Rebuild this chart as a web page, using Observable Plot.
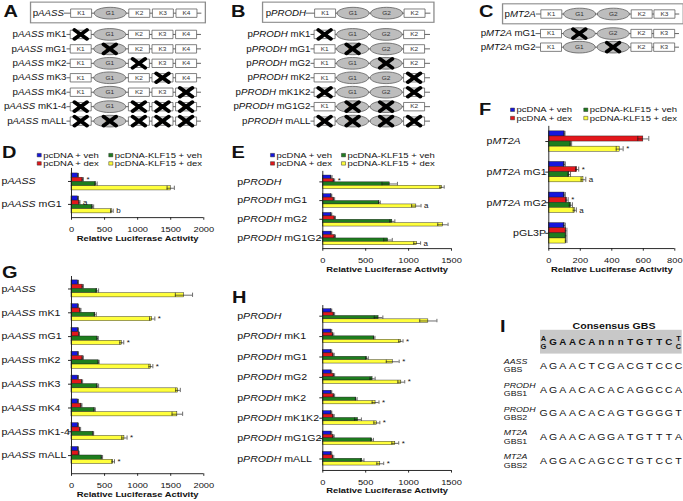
<!DOCTYPE html>
<html>
<head>
<meta charset="utf-8">
<script src="https://cdn.jsdelivr.net/npm/d3@7"></script>
<script src="https://cdn.jsdelivr.net/npm/@observablehq/plot@0.6"></script>
<style>
html, body { margin: 0; padding: 0; background: #fff; overflow: hidden; width: 683px; height: 501px; }
#page { position: absolute; left: 0; top: 0; width: 683px; height: 590px; transform-origin: 0 0; font-family: "Liberation Sans", Arial, Helvetica, sans-serif; color: #111; }
.pl { position: absolute; }
.pl svg { position: absolute; left: 0; top: 0; max-width: none; overflow: visible; }
.letter { position: absolute; font-weight: bold; font-size: 20px; line-height: 20px; }
</style>
</head>
<body>
<div id="page"></div>
<script>
// ================= DATA =================
const SERIES = ["pcDNA + veh", "pcDNA + dex", "pcDNA-KLF15 + veh", "pcDNA-KLF15 + dex"];
const COLORS = ["#1616dc", "#e3171b", "#1e7d1e", "#ffff3c"];
const AXIS_TITLE = "Relative Luciferase Activity";

// Panel A constructs
const aConstruct = "pAASS";
const aElements = ["K1", "G1", "K2", "K3", "K4"];
const aMutants = ["pAASS mK1", "pAASS mG1", "pAASS mK2", "pAASS mK3", "pAASS mK4", "pAASS mK1-4", "pAASS mALL"];
const aMutated = [["K1"], ["G1"], ["K2"], ["K3"], ["K4"], ["K1", "K2", "K3", "K4"], ["K1", "G1", "K2", "K3", "K4"]];
// Panel B constructs
const bConstruct = "pPRODH";
const bElements = ["K1", "G1", "G2", "K2"];
const bMutants = ["pPRODH mK1", "pPRODH mG1", "pPRODH mG2", "pPRODH mK2", "pPRODH mK1K2", "pPRODH mG1G2", "pPRODH mALL"];
const bMutated = [["K1"], ["G1"], ["G2"], ["K2"], ["K1", "K2"], ["G1", "G2"], ["K1", "G1", "G2", "K2"]];
// Panel C constructs
const cConstruct = "pMT2A";
const cElements = ["K1", "G1", "G2", "K2", "K3"];
const cMutants = ["pMT2A mG1", "pMT2A mG2"];
const cMutated = [["G1"], ["G2"]];

// Panel D
const dGroups = ["pAASS", "pAASS mG1"];
const dTicks = [0, 500, 1000, 1500, 2000];
const dVeh = [100, 100], dVehErr = [5, 5];
const dDex = [170, 120], dDexErr = [10, 8];
const dKlfVeh = [370, 320], dKlfVehErr = [18, 15];
const dKlfDex = [1500, 610], dKlfDexErr = [55, 20];
const dDexNote = ["*", "a"], dKlfDexNote = ["", "b"];

// Panel E
const eGroups = ["pPRODH", "pPRODH mG1", "pPRODH mG2", "pPRODH mG1G2"];
const eTicks = [0, 500, 1000, 1500];
const eVeh = [100, 100, 100, 100], eVehErr = [8, 5, 5, 5];
const eDex = [130, 130, 140, 140], eDexErr = [8, 8, 8, 8];
const eKlfVeh = [780, 660, 810, 760], eKlfVehErr = [90, 10, 30, 50];
const eKlfDex = [1390, 1090, 1400, 1100], eKlfDexErr = [25, 55, 60, 40];
const eDexNote = ["*", "", "", ""], eKlfDexNote = ["", "a", "", "a"];

// Panel F
const fGroups = ["pMT2A", "pMT2A mG1", "pMT2A mG2", "pGL3P"];
const fTicks = [0, 200, 400, 600, 800];
const fVeh = [100, 100, 100, 100], fVehErr = [3, 5, 5, 5];
const fDex = [600, 180, 115, 110], fDexErr = [35, 10, 8, 5];
const fKlfVeh = [140, 130, 140, 110], fKlfVehErr = [5, 8, 10, 5];
const fKlfDex = [450, 220, 165, 110], fKlfDexErr = [22, 15, 10, 5];
const fDexNote = ["", "*", "*", ""], fKlfDexNote = ["*", "a", "a", ""];

// Panel G
const gGroups = ["pAASS", "pAASS mK1", "pAASS mG1", "pAASS mK2", "pAASS mK3", "pAASS mK4", "pAASS mK1-4", "pAASS mALL"];
const gTicks = [0, 500, 1000, 1500, 2000];
const gVeh = [100, 100, 100, 100, 100, 100, 100, 100], gVehErr = [5, 5, 5, 5, 5, 5, 5, 5];
const gDex = [170, 135, 115, 170, 160, 150, 130, 110], gDexErr = [10, 8, 6, 10, 8, 8, 8, 6];
const gKlfVeh = [390, 360, 395, 410, 395, 350, 330, 460], gKlfVehErr = [20, 15, 10, 8, 15, 10, 5, 10];
const gKlfDex = [1700, 1220, 760, 1200, 1610, 1600, 800, 630], gKlfDexErr = [130, 40, 30, 30, 35, 80, 40, 20];
const gKlfDexNote = ["", "*", "*", "*", "", "", "*", "*"];

// Panel H
const hGroups = ["pPRODH", "pPRODH mK1", "pPRODH mG1", "pPRODH mG2", "pPRODH mK2", "pPRODH mK1K2", "pPRODH mG1G2", "pPRODH mALL"];
const hTicks = [0, 500, 1000, 1500];
const hVeh = [100, 100, 100, 100, 100, 100, 100, 100], hVehErr = [5, 5, 5, 5, 5, 5, 5, 5];
const hDex = [130, 120, 125, 130, 130, 125, 125, 120], hDexErr = [8, 8, 8, 8, 8, 8, 8, 8];
const hKlfVeh = [650, 600, 515, 580, 390, 410, 575, 460], hKlfVehErr = [50, 8, 15, 30, 10, 40, 15, 20];
const hKlfDex = [1230, 910, 815, 915, 615, 630, 845, 670], hKlfDexErr = [100, 25, 75, 40, 40, 35, 40, 40];
const hKlfDexNote = ["", "*", "*", "*", "*", "*", "*", "*"];

// Panel I
const consensusTitle = "Consensus GBS";
const consensusFirst = ["A", "G"];
const consensusCore = "GAACAnnnTGTTC";
const consensusLast = ["T", "C"];
const gbsGenes = ["AASS", "PRODH", "PRODH", "MT2A", "MT2A"];
const gbsSites = ["GBS", "GBS1", "GBS2", "GBS1", "GBS2"];
const gbsSeqs = ["AGAACTCGACGTCCC", "AGAACACACAGGCCA", "GGAACACAGTGGGGT", "AGAACAGGATGTTTA", "AGGACAGCCTGTCCT"];

// ================= LAYOUT / STYLE =================
const S = 0.85; // vertical squeeze of the whole figure
const INK = "#1a1a1a";
const FONT = "'Liberation Sans', Arial, Helvetica, sans-serif";
const KW = 21, GW = 32;
const TICK_FONT = 9.3, TICK_CENTER = 11.3, TITLE_CENTER = 23; // page px below the axis line
const LEGEND_FONT = 9.5;
const page = document.getElementById("page");
page.style.transform = `scale(1, ${S})`;
const baseStyle = {fontFamily: FONT, fontSize: "10px", background: "transparent", overflow: "visible", color: "#111"};

function place(nodes, left, topPage, width, heightPx) {
  const div = document.createElement("div");
  div.className = "pl";
  div.style.left = left + "px";
  div.style.top = (topPage / S) + "px";
  div.style.width = width + "px";
  div.style.height = heightPx + "px";
  nodes.forEach(n => div.appendChild(n));
  page.appendChild(div);
}

// custom symbols
const boxSym = {draw(ctx, size) { const r = Math.sqrt(size / Math.PI), h = r * 0.47; ctx.moveTo(-r, -h); ctx.lineTo(r, -h); ctx.lineTo(r, h); ctx.lineTo(-r, h); ctx.closePath(); }};
const ellSym = {draw(ctx, size) { const rx = Math.sqrt(size / Math.PI), ry = rx * 0.43, k = 0.5523;
  ctx.moveTo(rx, 0); ctx.bezierCurveTo(rx, ry * k, rx * k, ry, 0, ry); ctx.bezierCurveTo(-rx * k, ry, -rx, ry * k, -rx, 0);
  ctx.bezierCurveTo(-rx, -ry * k, -rx * k, -ry, 0, -ry); ctx.bezierCurveTo(rx * k, -ry, rx, -ry * k, rx, 0); ctx.closePath(); }};
const xSym = {draw(ctx, size) { const r = Math.sqrt(size / Math.PI), h = r * 0.84; ctx.moveTo(-r, -h); ctx.lineTo(r, h); ctx.moveTo(r, -h); ctx.lineTo(-r, h); }};

// ---------- construct diagrams ----------
function diagram(c) {
  const els = [];
  c.names.forEach((name, ri) => {
    let x = c.elStart;
    c.elements.forEach(e => {
      const w = e[0] === "K" ? KW : GW;
      els.push({row: name, el: e, cx: x + w / 2, kind: e[0], mut: c.mutated[ri].includes(e)});
      x += w + c.gap;
    });
  });
  const W = c.right - c.left, H = (c.bottom - c.top) / S;
  const plot = Plot.plot({
    width: W, height: H, margin: 0, style: baseStyle,
    x: {type: "linear", domain: [c.left, c.right], range: [0, W], axis: null},
    y: {type: "point", domain: c.names, range: [(c.y0 - c.top) / S, (c.y1 - c.top) / S], padding: 0, axis: null},
    marks: [
      c.frame ? Plot.frame({stroke: "#8c8c8c", strokeWidth: 1.3}) : null,
      Plot.ruleY(c.names, {y: d => d, x1: c.lineStart, x2: c.lineEnd, stroke: "#444", strokeWidth: 0.9}),
      Plot.dot(els.filter(d => d.kind === "K"), {x: "cx", y: "row", symbol: boxSym, r: KW / 2, fill: "white", stroke: "#555", strokeWidth: 0.8}),
      Plot.dot(els.filter(d => d.kind === "G"), {x: "cx", y: "row", symbol: ellSym, r: GW / 2, fill: "#bdbdbd", stroke: "#555", strokeWidth: 0.8}),
      Plot.text(els, {x: "cx", y: "row", text: "el", fontSize: 6.5, fill: "#333"}),
      Plot.dot(els.filter(d => d.mut), {x: "cx", y: "row", symbol: xSym, r: 6.2, fill: "none", stroke: "#000", strokeWidth: 4.2, strokeLinecap: "round"}),
      Plot.text(c.names, {x: c.labelEnd, y: d => d, text: d => d, textAnchor: "end", fontSize: 9.7})
    ]
  });
  place([plot], c.left, c.top, W, H);
}

// ---------- legends ----------
function legend(c) {
  const items = SERIES.map((s, i) => ({s, col: Math.floor(i / 2), row: i % 2}));
  const W = c.right - c.left, H = (c.bottom - c.top) / S;
  const plot = Plot.plot({
    width: W, height: H, margin: 0, style: baseStyle,
    x: {type: "linear", domain: [0, 1], range: [c.col0 - c.left, c.col1 - c.left], axis: null},
    y: {type: "linear", domain: [0, 1], range: [(c.row0 - c.top) / S, (c.row1 - c.top) / S], axis: null},
    color: {domain: SERIES, range: COLORS},
    marks: [
      Plot.dot(items, {x: "col", y: "row", symbol: "square", r: 2.3, fill: "s", stroke: "#222", strokeWidth: 0.5}),
      Plot.text(items, {x: "col", y: "row", text: "s", dx: 4, textAnchor: "start", fontSize: LEGEND_FONT})
    ]
  });
  place([plot], c.left, c.top, W, H);
}

// ---------- bar panels ----------
function barPanel(c) {
  const rows = [];
  c.groups.forEach((g, gi) => SERIES.forEach((s, si) => rows.push({
    g, s, v: c.vals[si][gi], e: c.errs[si][gi], n: (c.notes[si] && c.notes[si][gi]) || ""
  })));
  const W = c.right - c.left, H = (c.bottom - c.top) / S;
  const common = {
    width: W, height: H,
    marginLeft: c.x0 - c.left, marginRight: c.right - c.x1,
    marginTop: (c.frameTop - c.top) / S, marginBottom: (c.bottom - c.axisY) / S,
    style: baseStyle
  };
  const endLabels = c.endLabels || [];
  const bars = Plot.plot({
    ...common,
    x: {domain: [0, c.max], axis: null},
    y: {domain: SERIES, axis: null, padding: 0},
    fy: {domain: c.groups, axis: null, paddingInner: c.pi, paddingOuter: c.po, align: c.align ?? 0.5},
    color: {domain: SERIES, range: COLORS},
    marks: [
      Plot.barX(rows, {x: "v", y: "s", fy: "g", fill: "s", stroke: INK, strokeWidth: 0.5}),
      Plot.ruleY(rows, {x1: d => d.v - d.e, x2: d => d.v + d.e, y: "s", fy: "g", stroke: INK, strokeWidth: 0.7}),
      Plot.tickX(rows, {x: d => d.v - d.e, y: "s", fy: "g", stroke: INK, strokeWidth: 0.7}),
      Plot.tickX(rows, {x: d => d.v + d.e, y: "s", fy: "g", stroke: INK, strokeWidth: 0.7}),
      Plot.text(rows.filter(d => d.n), {x: d => d.v + d.e, y: "s", fy: "g", text: "n", dx: 3, textAnchor: "start", fontSize: 8}),
      Plot.axisFy({anchor: "left", tickSize: 3, tickFormat: () => "", label: null, stroke: INK}),
      Plot.text(c.groups.filter(g => !endLabels.includes(g)), {fy: d => d, text: d => d, frameAnchor: "left", textAnchor: "start", dx: c.labelX - c.x0, fontSize: 10.6}),
      Plot.text(c.groups.filter(g => endLabels.includes(g)), {fy: d => d, text: d => d, frameAnchor: "left", textAnchor: "end", dx: (c.labelEndX || 0) - c.x0, fontSize: 10.6})
    ]
  });
  const axes = Plot.plot({
    ...common,
    x: {domain: [0, c.max], axis: null},
    y: {domain: [0, 1], axis: null},
    marks: [
      Plot.ruleX([0], {stroke: INK, strokeWidth: 1}),
      Plot.ruleY([0], {stroke: INK, strokeWidth: 1}),
      Plot.axisX({ticks: c.ticks, tickSize: 3, tickPadding: TICK_CENTER / S - 3 - 0.36 * TICK_FONT, fontSize: TICK_FONT, label: null, tickFormat: d => String(d), stroke: INK}),
      Plot.text([AXIS_TITLE], {frameAnchor: "bottom", dy: TITLE_CENTER / S, fontWeight: "bold", fontSize: 9.4})
    ]
  });
  place([bars, axes], c.left, c.top, W, H);
}

// ---------- panel I ----------
function panelI() {
  const left = 495, right = 683, top = 314, bottom = 478;
  const W = right - left, H = (bottom - top) / S;
  const keys = ["cons", ...gbsSeqs.map((_, i) => "r" + i)];
  const N = gbsSeqs[0].length - 1;
  const letters = [];
  gbsSeqs.forEach((s, ri) => [...s].forEach((ch, i) => letters.push({row: "r" + ri, i, ch})));
  const core = [...consensusCore].map((ch, i) => ({ch, i: i + 1}));
  const genes = gbsGenes.map((g, i) => ({g, site: gbsSites[i], row: "r" + i}));
  const plot = Plot.plot({
    width: W, height: H, margin: 0, style: baseStyle,
    x: {type: "linear", domain: [0, N], range: [543 - left, 678 - left], axis: null},
    y: {type: "band", domain: keys, range: [(329.6 - top) / S, (472.9 - top) / S], padding: 0, axis: null},
    marks: [
      Plot.barX(["cons"], {x1: 0, x2: N, y: d => d, fill: "#c8c8c8", insetLeft: -3, insetRight: -3.7}),
      Plot.text([consensusTitle], {x: N / 2, y: () => "cons", dx: 3, dy: -16.5 / S, fontWeight: "bold", fontSize: 10.6}),
      Plot.text(core, {x: "i", y: () => "cons", text: "ch", fontWeight: "bold", fontSize: 9.8}),
      Plot.text([consensusFirst.join("\n")], {x: 0, y: () => "cons", fontWeight: "bold", fontSize: 7.5, lineHeight: 1.3}),
      Plot.text([consensusLast.join("\n")], {x: N, y: () => "cons", fontWeight: "bold", fontSize: 7.5, lineHeight: 1.3}),
      Plot.text(letters, {x: "i", y: "row", text: "ch", fontSize: 10.5}),
      Plot.text(genes, {x: 0, y: "row", text: "g", dx: 503.3 - 543, dy: -4.3 / S, textAnchor: "start", fontStyle: "italic", fontSize: 8.8}),
      Plot.text(genes, {x: 0, y: "row", text: "site", dx: 503.3 - 543, dy: 4.1 / S, textAnchor: "start", fontSize: 8.8})
    ]
  });
  place([plot], left, top, W, H);
}

// ================= BUILD =================
diagram({left: 29.6, right: 204.5, top: 2, bottom: 22.7, names: [aConstruct], elements: aElements, mutated: [[]], y0: 13.3, y1: 13.3, labelEnd: 63, lineStart: 63.5, lineEnd: 201, elStart: 69.7, gap: 2.6, frame: true});
diagram({left: 0, right: 230, top: 25, bottom: 130, names: aMutants, elements: aElements, mutated: aMutated, y0: 33.3, y1: 122.3, labelEnd: 66, lineStart: 66.5, lineEnd: 201, elStart: 69.7, gap: 2.6});
diagram({left: 261.5, right: 433, top: 2, bottom: 22.2, names: [bConstruct], elements: bElements, mutated: [[]], y0: 12.7, y1: 12.7, labelEnd: 305, lineStart: 305.5, lineEnd: 430, elStart: 313.6, gap: 1.5, frame: true});
diagram({left: 230, right: 460, top: 25, bottom: 130, names: bMutants, elements: bElements, mutated: bMutated, y0: 32.3, y1: 122.3, labelEnd: 310, lineStart: 310.5, lineEnd: 430, elStart: 313.6, gap: 1.5});
diagram({left: 501.7, right: 682.5, top: 3, bottom: 23, names: [cConstruct], elements: cElements, mutated: [[]], y0: 13.3, y1: 13.3, labelEnd: 535, lineStart: 535.5, lineEnd: 679, elStart: 540, gap: 1.8, frame: true});
diagram({left: 460, right: 683, top: 25, bottom: 55, names: cMutants, elements: cElements, mutated: cMutated, y0: 33.3, y1: 47.7, labelEnd: 535, lineStart: 535.5, lineEnd: 679, elStart: 540, gap: 1.8});

legend({left: 0, right: 230, top: 146, bottom: 168, col0: 38.7, col1: 110.3, row0: 154.5, row1: 162.8});
legend({left: 230, right: 460, top: 146, bottom: 168, col0: 272, col1: 343, row0: 154.5, row1: 162.8});
legend({left: 460, right: 683, top: 101, bottom: 124, col0: 512, col1: 585.3, row0: 109.2, row1: 117.5});

barPanel({groups: dGroups, vals: [dVeh, dDex, dKlfVeh, dKlfDex], errs: [dVehErr, dDexErr, dKlfVehErr, dKlfDexErr], notes: [null, dDexNote, null, dKlfDexNote],
  left: 0, right: 230, top: 165, bottom: 246, x0: 71, x1: 203.3, frameTop: 168, axisY: 217.3, pi: 0.2575, po: 0.19, max: 2000, ticks: dTicks, labelX: 1});
barPanel({groups: eGroups, vals: [eVeh, eDex, eKlfVeh, eKlfDex], errs: [eVehErr, eDexErr, eKlfVehErr, eKlfDexErr], notes: [null, eDexNote, null, eKlfDexNote],
  left: 230, right: 460, top: 165, bottom: 280, x0: 322.3, x1: 451, frameTop: 171, axisY: 248.3, pi: 0.13, po: 0.07, max: 1500, ticks: eTicks, labelX: 236.7});
barPanel({groups: fGroups, vals: [fVeh, fDex, fKlfVeh, fKlfDex], errs: [fVehErr, fDexErr, fKlfVehErr, fKlfDexErr], notes: [null, fDexNote, null, fKlfDexNote],
  left: 460, right: 683, top: 120, bottom: 280, x0: 548.3, x1: 674.3, frameTop: 126, axisY: 248.3, pi: 0.277, po: 0.111, max: 800, ticks: fTicks, labelX: 486, endLabels: ["pGL3P"], labelEndX: 545.5});
barPanel({groups: gGroups, vals: [gVeh, gDex, gKlfVeh, gKlfDex], errs: [gVehErr, gDexErr, gKlfVehErr, gKlfDexErr], notes: [null, null, null, gKlfDexNote],
  left: 0, right: 230, top: 270, bottom: 501, x0: 71, x1: 203.3, frameTop: 275.7, axisY: 473, pi: 0.261, po: 0.163, align: 0.25, max: 2000, ticks: gTicks, labelX: 1});
barPanel({groups: hGroups, vals: [hVeh, hDex, hKlfVeh, hKlfDex], errs: [hVehErr, hDexErr, hKlfVehErr, hKlfDexErr], notes: [null, null, null, hKlfDexNote],
  left: 230, right: 460, top: 300, bottom: 501, x0: 322.3, x1: 451, frameTop: 305, axisY: 470, pi: 0.193, po: 0.082, max: 1500, ticks: hTicks, labelX: 236.7});

panelI();

// panel letters
const panelLetters = [["A", 3.5, 17], ["B", 231, 17], ["C", 479, 17], ["D", 2, 158], ["E", 231.5, 158], ["F", 479, 115], ["G", 2, 278], ["H", 232, 303], ["I", 500, 331.7]];
panelLetters.forEach(([ch, x, base]) => {
  const d = document.createElement("div");
  d.className = "letter";
  d.textContent = ch;
  d.style.left = x + "px";
  d.style.top = (base / S - 16.93) + "px";
  page.appendChild(d);
});

// italic gene names inside construct labels
page.querySelectorAll("text").forEach(t => {
  if (t.querySelector("tspan")) return;
  const m = /^p(AASS|PRODH|MT2A)(.*)$/.exec(t.textContent);
  if (!m) return;
  t.textContent = "";
  const add = (s, it) => {
    const ts = document.createElementNS("http://www.w3.org/2000/svg", "tspan");
    ts.textContent = s;
    if (it) ts.setAttribute("font-style", "italic");
    t.appendChild(ts);
  };
  add("p"); add(m[1], true); if (m[2]) add(m[2]);
});
</script>
</body>
</html>
